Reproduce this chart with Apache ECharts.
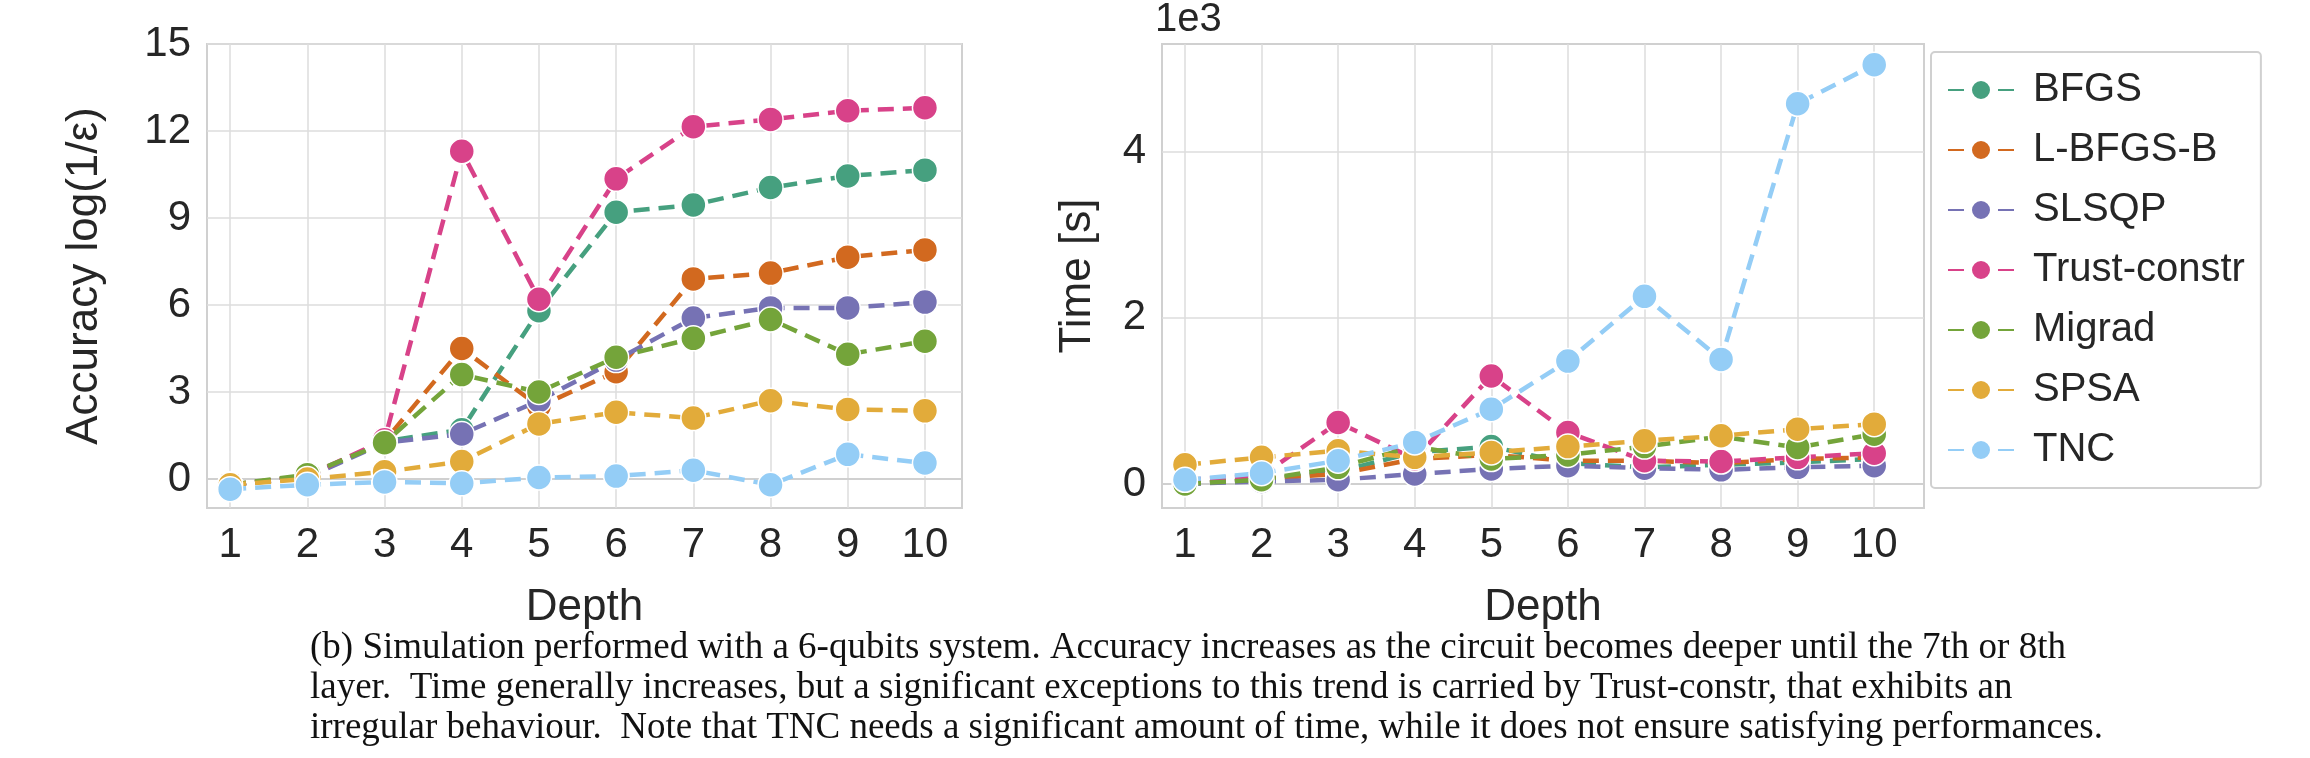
<!DOCTYPE html>
<html><head><meta charset="utf-8">
<script src="https://cdn.jsdelivr.net/npm/echarts@6/dist/echarts.min.js"></script>
<style>html,body{margin:0;background:#fff}#c{width:2310px;height:758px}</style>
</head><body><div id="c"></div>
<script>
var depths = [1, 2, 3, 4, 5, 6, 7, 8, 9, 10];
var names = ['BFGS', 'L-BFGS-B', 'SLSQP', 'Trust-constr', 'Migrad', 'SPSA', 'TNC'];
var colors = ['#46a07f', '#d2691f', '#7672b4', '#d84289', '#74a43a', '#e2ab3a', '#94cdf6'];
var accTicks = [0, 3, 6, 9, 12, 15];
var timeTicks = [0, 2, 4];

// accuracy log(1/eps)
var accBFGS = [-0.2, 0.1, 1.3, 1.7, 5.8, 9.2, 9.45, 10.05, 10.45, 10.65];
var accLBFGSB = [-0.2, 0.1, 1.3, 4.5, 2.5, 3.7, 6.9, 7.1, 7.65, 7.9];
var accSLSQP = [-0.2, 0.05, 1.25, 1.55, 2.7, 4.1, 5.55, 5.9, 5.9, 6.1];
var accTrust = [-0.2, 0.1, 1.35, 11.3, 6.2, 10.35, 12.15, 12.4, 12.7, 12.8];
var accMigrad = [-0.2, 0.15, 1.25, 3.6, 3.0, 4.2, 4.85, 5.5, 4.3, 4.75];
var accSPSA = [-0.2, 0.0, 0.25, 0.6, 1.9, 2.3, 2.1, 2.7, 2.4, 2.35];
var accTNC = [-0.35, -0.2, -0.1, -0.15, 0.05, 0.1, 0.3, -0.2, 0.85, 0.55];

// time in thousands of seconds
var tBFGS = [0.0, 0.05, 0.15, 0.38, 0.45, 0.25, 0.2, 0.23, 0.26, 0.3];
var tLBFGSB = [0.0, 0.06, 0.12, 0.3, 0.35, 0.28, 0.28, 0.25, 0.3, 0.32];
var tSLSQP = [0.0, 0.03, 0.05, 0.12, 0.18, 0.22, 0.19, 0.17, 0.2, 0.22];
var tTrust = [0.05, 0.1, 0.74, 0.3, 1.3, 0.62, 0.28, 0.27, 0.32, 0.37];
var tMigrad = [0.0, 0.05, 0.2, 0.45, 0.3, 0.35, 0.45, 0.57, 0.44, 0.6];
var tSPSA = [0.23, 0.32, 0.4, 0.32, 0.38, 0.45, 0.52, 0.58, 0.66, 0.72];
var tTNC = [0.05, 0.13, 0.28, 0.5, 0.9, 1.48, 2.26, 1.5, 4.58, 5.05];

var accAll = [accBFGS, accLBFGSB, accSLSQP, accTrust, accMigrad, accSPSA, accTNC];
var timeAll = [tBFGS, tLBFGSB, tSLSQP, tTrust, tMigrad, tSPSA, tTNC];

var captionLines = [
  '(b) Simulation performed with a 6-qubits system. Accuracy increases as the circuit becomes deeper until the 7th or 8th',
  'layer.  Time generally increases, but a significant exceptions to this trend is carried by Trust-constr, that exhibits an',
  'irregular behaviour.  Note that TNC needs a significant amount of time, while it does not ensure satisfying performances.'
];

var font = 'Liberation Sans, Arial, sans-serif';
var txt = '#262626';
var gridLine = {show: true, lineStyle: {color: '#dcdcdc', width: 1.5}};

function xAxisFor(idx, max) {
  return {
    type: 'value', gridIndex: idx, min: 0.7, max: max,
    name: 'Depth', nameLocation: 'middle', nameGap: 78,
    nameTextStyle: {fontSize: 44, color: txt, fontFamily: font},
    axisLine: {show: true, lineStyle: {color: '#d0d0d0', width: 2}},
    axisTick: {show: false, customValues: depths},
    axisLabel: {customValues: depths, fontSize: 42, color: txt, fontFamily: font, margin: 16},
    splitLine: gridLine
  };
}

function yAxisFor(idx, min, max, name, ticks, gap) {
  return {
    type: 'value', gridIndex: idx, min: min, max: max,
    name: name, nameLocation: 'middle', nameGap: gap,
    nameTextStyle: {fontSize: 44, color: txt, fontFamily: font},
    axisLine: {show: false},
    axisTick: {show: false, customValues: ticks},
    axisLabel: {customValues: ticks, fontSize: 42, color: txt, fontFamily: font, margin: 16},
    splitLine: gridLine
  };
}

function makeSeries(arrs, idx) {
  return arrs.map(function (vals, i) {
    return {
      name: names[i], type: 'line', xAxisIndex: idx, yAxisIndex: idx,
      data: depths.map(function (d, j) { return [d, vals[j]]; }),
      symbol: 'circle', symbolSize: 25,
      itemStyle: {color: colors[i], borderColor: '#fff', borderWidth: 1.5},
      lineStyle: {color: colors[i], width: 4.5, type: [16, 9]},
      z: 2 + i
    };
  });
}

var chart = echarts.init(document.getElementById('c'));
chart.setOption({
  backgroundColor: '#fff',
  animation: false,
  grid: [
    {left: 207, top: 44, width: 755, height: 464, show: true, borderColor: '#d0d0d0', borderWidth: 2},
    {left: 1162, top: 44, width: 762, height: 464, show: true, borderColor: '#d0d0d0', borderWidth: 2}
  ],
  xAxis: [xAxisFor(0, 10.48), xAxisFor(1, 10.65)],
  yAxis: [
    yAxisFor(0, -1, 15, 'Accuracy log(1/\u03b5)', accTicks, 100),
    yAxisFor(1, -0.29, 5.3, 'Time [s]', timeTicks, 62)
  ],
  legend: {
    orient: 'vertical', left: 1931, top: 52, width: 370,
    padding: [18, 16, 18, 16], itemGap: 20, itemWidth: 66, itemHeight: 25,
    borderColor: '#d0d0d0', borderWidth: 2, borderRadius: 4, backgroundColor: '#fff',
    textStyle: {fontSize: 40, color: txt, fontFamily: font, padding: [0, 0, 0, 14]},
    data: names
  },
  graphic: [
    {type: 'text', left: 1155, top: 0, style: {text: '1e3', fontSize: 40, fill: txt, fontFamily: font}}
  ].concat(captionLines.map(function (line, i) {
    return {type: 'text', left: 310, top: 630 + i * 40,
      style: {text: line, fontSize: 37, fill: '#111', fontFamily: 'Liberation Serif, DejaVu Serif, serif'}};
  })),
  series: makeSeries(accAll, 0).concat(makeSeries(timeAll, 1))
});
</script>
</body></html>
